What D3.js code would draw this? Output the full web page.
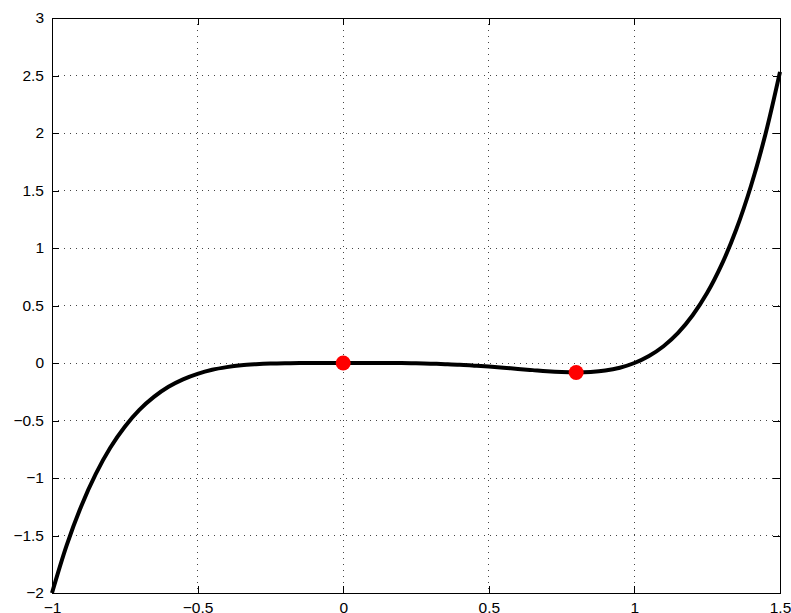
<!DOCTYPE html>
<html>
<head>
<meta charset="utf-8">
<script src="https://cdn.jsdelivr.net/npm/d3@7"></script>
<style>
  body { margin: 0; background: #fff; }
  .tick text { font-family: "Liberation Sans", Arial, sans-serif; font-size: 15.5px; fill: #000; }
</style>
</head>
<body>
<div id="chart"></div>
<script>
// curve samples
var xValues = [-1, -0.95, -0.9, -0.85, -0.8, -0.75, -0.7, -0.65, -0.6, -0.55, -0.5, -0.45, -0.4, -0.35, -0.3, -0.25, -0.2, -0.15, -0.1, -0.05,
    0, 0.05, 0.1, 0.15, 0.2, 0.25, 0.3, 0.35, 0.4, 0.45, 0.5, 0.55, 0.6, 0.65, 0.7, 0.75, 0.8, 0.85, 0.9, 0.95,
    1, 1.05, 1.1, 1.15, 1.2, 1.25, 1.3, 1.35, 1.4, 1.45, 1.5];
var yValues = [-2, -1.588, -1.247, -0.966, -0.737, -0.554, -0.408, -0.295, -0.207, -0.142, -0.094, -0.059, -0.036, -0.020, -0.011, -0.005, -0.002, -0.001, 0, 0,
    0, 0, 0, 0, -0.001, -0.003, -0.006, -0.010, -0.015, -0.023, -0.031, -0.041, -0.052, -0.062, -0.072, -0.079, -0.082, -0.078, -0.066, -0.041,
    0, 0.061, 0.146, 0.262, 0.415, 0.610, 0.857, 1.163, 1.537, 1.989, 2.531];

// marked points
var markX = [0, 0.8];
var markY = [0, -0.082];

var xTicks = [-1, -0.5, 0, 0.5, 1, 1.5];
var yTicks = [-2, -1.5, -1, -0.5, 0, 0.5, 1, 1.5, 2, 2.5, 3];

var svgWidth = 791;
var svgHeight = 613;
var margin = { top: 18, right: 11, bottom: 20, left: 52 };
var chartWidth = svgWidth - margin.left - margin.right;
var chartHeight = svgHeight - margin.top - margin.bottom;

var svg = d3.select("#chart")
    .append("svg")
    .attr("width", svgWidth)
    .attr("height", svgHeight);

var chartGroup = svg.append("g")
    .attr("transform", `translate(${margin.left}, ${margin.top})`);

var xScale = d3.scaleLinear().domain([-1, 1.5]).range([0, chartWidth]);
var yScale = d3.scaleLinear().domain([-2, 3]).range([chartHeight, 0]);

function fmt(d) {
    return String(d).replace("-", "\u2212");
}

// grid
var grid = chartGroup.append("g");
grid.selectAll(".vgrid")
    .data(xTicks.slice(1, -1))
    .enter().append("line")
    .attr("x1", d => xScale(d)).attr("x2", d => xScale(d))
    .attr("y1", 0).attr("y2", chartHeight)
    .attr("stroke", "#444").attr("stroke-width", 1)
    .attr("stroke-dasharray", "1,5")
    .attr("shape-rendering", "crispEdges");
grid.selectAll(".hgrid")
    .data(yTicks.slice(1, -1))
    .enter().append("line")
    .attr("y1", d => yScale(d)).attr("y2", d => yScale(d))
    .attr("x1", 0).attr("x2", chartWidth)
    .attr("stroke", "#444").attr("stroke-width", 1)
    .attr("stroke-dasharray", "1,5")
    .attr("shape-rendering", "crispEdges");

// axes with inward ticks
var bottomAxis = d3.axisBottom(xScale).tickValues(xTicks).tickSize(-7).tickPadding(9).tickFormat(fmt);
var leftAxis = d3.axisLeft(yScale).tickValues(yTicks).tickSize(-7).tickPadding(8).tickFormat(fmt);
var topAxis = d3.axisTop(xScale).tickValues(xTicks).tickSize(-7).tickFormat("");
var rightAxis = d3.axisRight(yScale).tickValues(yTicks).tickSize(-7).tickFormat("");

chartGroup.append("g").attr("transform", `translate(0,${chartHeight})`).call(bottomAxis);
chartGroup.append("g").call(leftAxis);
chartGroup.append("g").call(topAxis);
chartGroup.append("g").attr("transform", `translate(${chartWidth},0)`).call(rightAxis);

chartGroup.selectAll(".domain, .tick line")
    .attr("stroke", "#000")
    .attr("shape-rendering", "crispEdges");

// curve
var points = xValues.map((x, i) => [x, yValues[i]]);
var line = d3.line()
    .x(d => xScale(d[0]))
    .y(d => yScale(d[1]))
    .curve(d3.curveCatmullRom);

chartGroup.append("path")
    .datum(points)
    .attr("d", line)
    .attr("fill", "none")
    .attr("stroke", "#000")
    .attr("stroke-width", 4);

// red markers
chartGroup.selectAll(".mark")
    .data(markX)
    .enter().append("circle")
    .attr("cx", d => xScale(d))
    .attr("cy", (d, i) => yScale(markY[i]))
    .attr("r", 7.5)
    .attr("fill", "#ff0000");
</script>
</body>
</html>
